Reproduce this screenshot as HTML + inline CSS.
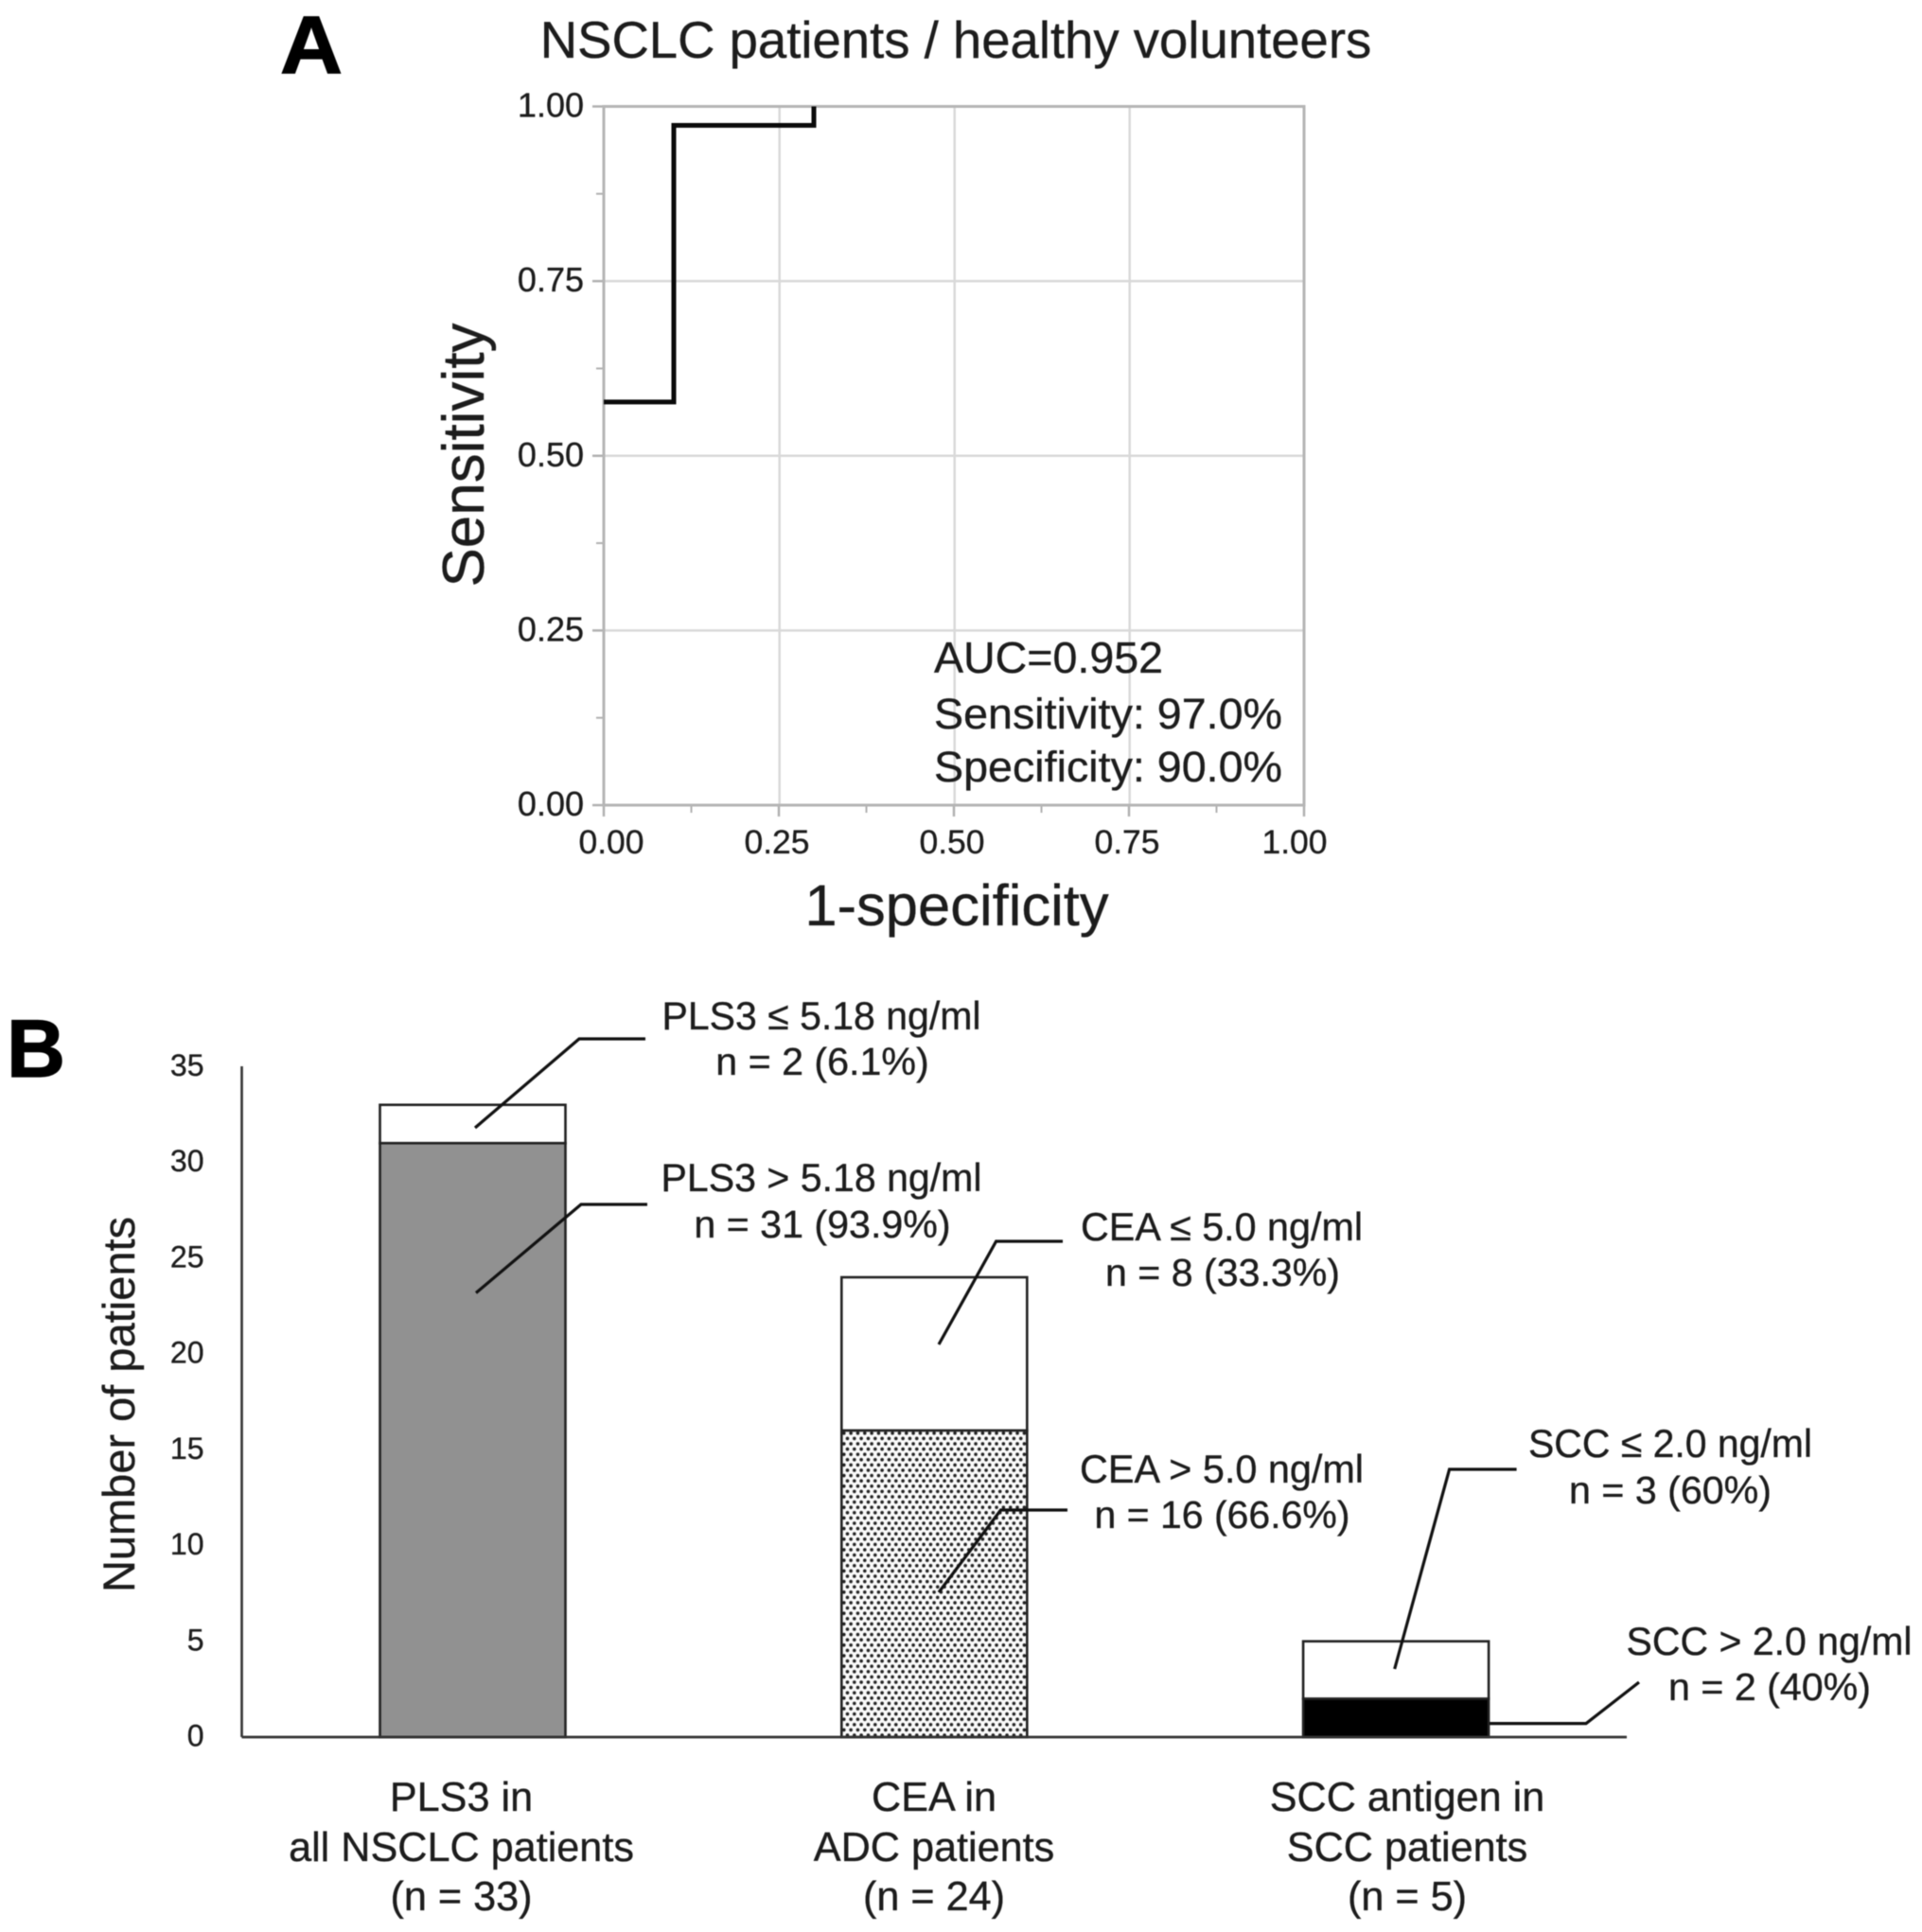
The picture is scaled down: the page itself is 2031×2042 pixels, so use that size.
<!DOCTYPE html>
<html lang="en">
<head>
<meta charset="utf-8">
<title>NSCLC ROC curve and marker positivity</title>
<style>
html,body{margin:0;padding:0;background:#fff;width:2031px;height:2042px;overflow:hidden}
svg{display:block;filter:blur(0.5px)}
text{font-family:"Liberation Sans",Arial,sans-serif;fill:#1c1c1c;stroke:#1c1c1c;stroke-width:0.35}
.leader{fill:none;stroke:#111;stroke-width:3.2}
</style>
</head>
<body>
<svg id="figure" xmlns="http://www.w3.org/2000/svg" width="2031" height="2042" viewBox="0 0 2031 2042">
  <defs>
    <pattern id="dots" width="7.33" height="11.2" patternUnits="userSpaceOnUse" x="890" y="1512">
      <rect width="7.33" height="11.2" fill="#fafafa"/>
      <circle cx="1.8" cy="2.8" r="1.8" fill="#222"/>
      <circle cx="5.47" cy="8.4" r="1.8" fill="#222"/>
    </pattern>
  </defs>
  <rect width="2031" height="2042" fill="#fff"/>

  <g id="panel-a">
    <text x="296" y="77" font-size="86" font-weight="700" textLength="66" lengthAdjust="spacingAndGlyphs" style="fill:#000;stroke:#000;stroke-width:1.2">A</text>
    <text x="1010" y="61" font-size="54.5" text-anchor="middle">NSCLC patients / healthy volunteers</text>
    <g id="roc-grid"></g>
    <g id="roc-axes"></g>
    <g id="roc-curve"></g>
    <text transform="translate(511,481) rotate(-90)" font-size="62" text-anchor="middle">Sensitivity</text>
    <text x="1011" y="978" font-size="61.5" text-anchor="middle">1-specificity</text>
    <text x="987" y="711" font-size="46.5" textLength="242" lengthAdjust="spacingAndGlyphs">AUC=0.952</text>
    <text x="987" y="770" font-size="45.5" textLength="368" lengthAdjust="spacingAndGlyphs">Sensitivity: 97.0%</text>
    <text x="987" y="826" font-size="45.5" textLength="368" lengthAdjust="spacingAndGlyphs">Specificity: 90.0%</text>
  </g>

  <g id="panel-b">
    <text x="7" y="1138" font-size="86" font-weight="700" textLength="62" lengthAdjust="spacingAndGlyphs" style="fill:#000;stroke:#000;stroke-width:1.2">B</text>
    <text transform="translate(142,1484.5) rotate(-90)" font-size="47" text-anchor="middle">Number of patients</text>
    <g id="bar-marks"></g>
    <g id="bar-axes"></g>
    <g id="bar-categories"></g>

    <polyline class="leader" points="502,1192 612,1098 682,1098"/>
    <polyline class="leader" points="503,1366.5 614,1273 684,1273"/>
    <polyline class="leader" points="992,1421 1052.6,1312 1123,1312"/>
    <polyline class="leader" points="992,1683 1057.5,1596 1128,1596"/>
    <polyline class="leader" points="1473.7,1764 1531.6,1553 1602.6,1553"/>
    <polyline class="leader" points="1574,1821.6 1676,1821.6 1732,1778"/>

    <text x="868" y="1088" font-size="42" text-anchor="middle" textLength="337" lengthAdjust="spacingAndGlyphs">PLS3 ≤ 5.18 ng/ml</text>
    <text x="869" y="1136" font-size="41.2" text-anchor="middle">n = 2 (6.1%)</text>
    <text x="868" y="1259" font-size="42" text-anchor="middle" textLength="339" lengthAdjust="spacingAndGlyphs">PLS3 &gt; 5.18 ng/ml</text>
    <text x="869" y="1308" font-size="41.2" text-anchor="middle">n = 31 (93.9%)</text>

    <text x="1291" y="1311" font-size="42" text-anchor="middle" textLength="298" lengthAdjust="spacingAndGlyphs">CEA ≤ 5.0 ng/ml</text>
    <text x="1292" y="1359" font-size="41" text-anchor="middle" textLength="248" lengthAdjust="spacingAndGlyphs">n = 8 (33.3%)</text>
    <text x="1291" y="1567" font-size="42" text-anchor="middle" textLength="300" lengthAdjust="spacingAndGlyphs">CEA &gt; 5.0 ng/ml</text>
    <text x="1291.5" y="1615" font-size="41" text-anchor="middle" textLength="270" lengthAdjust="spacingAndGlyphs">n = 16 (66.6%)</text>

    <text x="1765" y="1540" font-size="42" text-anchor="middle" textLength="300" lengthAdjust="spacingAndGlyphs">SCC ≤ 2.0 ng/ml</text>
    <text x="1765" y="1589" font-size="41" text-anchor="middle" textLength="214" lengthAdjust="spacingAndGlyphs">n = 3 (60%)</text>
    <text x="1869.5" y="1749" font-size="42" text-anchor="middle" textLength="302" lengthAdjust="spacingAndGlyphs">SCC &gt; 2.0 ng/ml</text>
    <text x="1870" y="1797" font-size="41" text-anchor="middle" textLength="214" lengthAdjust="spacingAndGlyphs">n = 2 (40%)</text>
  </g>
</svg>

<script>
// ROC chart data
const rocFalsePositive = [0, 0.1, 0.3];
const rocTruePositive = [0.577, 0.973, 1.0];
const rocMajorTicks = [0, 0.25, 0.5, 0.75, 1];
const rocMinorTicks = [0.125, 0.375, 0.625, 0.875];
const rocTickLabels = ['0.00', '0.25', '0.50', '0.75', '1.00'];

// Stacked bar chart data
const barCategories = [
  ['PLS3 in', 'all NSCLC patients', '(n = 33)'],
  ['CEA in', 'ADC patients', '(n = 24)'],
  ['SCC antigen in', 'SCC patients', '(n = 5)']
];
const barKeys = ['pls3', 'cea', 'scc'];
const aboveCutoffValues = [31, 16, 2];
const belowCutoffValues = [2, 8, 3];
const barTicks = [0, 5, 10, 15, 20, 25, 30, 35];
const barTickLabels = ['0', '5', '10', '15', '20', '25', '30', '35'];

const SVGNS = 'http://www.w3.org/2000/svg';
function make(tag, parent, attrs, content) {
  const el = document.createElementNS(SVGNS, tag);
  Object.keys(attrs).forEach(function (k) { el.setAttribute(k, attrs[k]); });
  if (content !== undefined) el.textContent = content;
  parent.appendChild(el);
  return el;
}

// ROC scales
const rocLeft = 638, rocRight = 1378, rocTop = 112.5, rocBottom = 851;
function rocX(v) { return rocLeft + v * (rocRight - rocLeft); }
function rocY(v) { return rocBottom - v * (rocBottom - rocTop); }

const rocGrid = document.getElementById('roc-grid');
const rocAxes = document.getElementById('roc-axes');
const rocCurve = document.getElementById('roc-curve');

rocMajorTicks.forEach(function (t, i) {
  if (t > 0 && t < 1) {
    const gx = make('line', rocGrid, { x1: rocX(t) + 0.7, x2: rocX(t) + 0.7, y1: rocTop, y2: rocBottom, stroke: '#d9d9d9', 'stroke-width': 2.5 });
    
    
    const gy = make('line', rocGrid, { x1: rocLeft, x2: rocRight, y1: rocY(t), y2: rocY(t), stroke: '#d9d9d9', 'stroke-width': 2.5 });
    
    
  }
  const tx = make('line', rocAxes, { x1: rocX(t), x2: rocX(t), y1: rocBottom, y2: rocBottom + 12, stroke: '#b0b0b0', 'stroke-width': 2.5 });
  
  
  const ty = make('line', rocAxes, { x1: rocLeft - 12, x2: rocLeft, y1: rocY(t), y2: rocY(t), stroke: '#b0b0b0', 'stroke-width': 2.5 });
  
  
  const lx = make('text', rocAxes, { x: Math.min(Math.max(rocX(t) - 2, 646), 1368), y: 902, 'font-size': 35.5, 'text-anchor': 'middle' }, rocTickLabels[i]);
  
  
  const ly = make('text', rocAxes, { x: 617, y: rocY(t) + 11, 'font-size': 36, 'text-anchor': 'end' }, rocTickLabels[i]);
  
  
});
rocMinorTicks.forEach(function (t) {
  const mx = make('line', rocAxes, { x1: rocX(t), x2: rocX(t), y1: rocBottom, y2: rocBottom + 8, stroke: '#b0b0b0', 'stroke-width': 2 });
  
  
  const my = make('line', rocAxes, { x1: rocLeft - 8, x2: rocLeft, y1: rocY(t), y2: rocY(t), stroke: '#b0b0b0', 'stroke-width': 2 });
  
  
});
const rocFrame = make('rect', rocAxes, { x: rocLeft, y: rocTop, width: rocRight - rocLeft, height: rocBottom - rocTop, fill: 'none', stroke: '#b5b5b5', 'stroke-width': 3 });



let rocPath = 'M' + rocX(rocFalsePositive[0]) + ' ' + rocY(rocTruePositive[0]);
for (let i = 1; i < rocFalsePositive.length; i++) {
  rocPath += ' H' + rocX(rocFalsePositive[i]) + ' V' + rocY(rocTruePositive[i]);
}
const rocLine = make('path', rocCurve, { d: rocPath, fill: 'none', stroke: '#0a0a0a', 'stroke-width': 5, 'stroke-linejoin': 'miter' });



// Bar scales
const barBaseY = 1836, barUnit = 20.25, barWidth = 196;
const barAxisLeft = 255.5, barAxisRight = 1719;
const barCenterStart = 499.5, barStep = 487.8;
const categoryLabelCenters = [487.5, 987, 1487];
function barY(v) { return barBaseY - v * barUnit; }
function barCenter(i) { return barCenterStart + i * barStep; }

const barMarks = document.getElementById('bar-marks');
const barAxes = document.getElementById('bar-axes');
const barCats = document.getElementById('bar-categories');
const lowerFills = ['#919191', 'url(#dots)', '#000'];

barCategories.forEach(function (lines, i) {
  const left = barCenter(i) - barWidth / 2;
  const lower = aboveCutoffValues[i];
  const upper = belowCutoffValues[i];
  const upperRect = make('rect', barMarks, { x: left, y: barY(lower + upper), width: barWidth, height: upper * barUnit, fill: '#fff', stroke: '#222', 'stroke-width': 2.6 });
  
  
  const lowerRect = make('rect', barMarks, { x: left, y: barY(lower), width: barWidth, height: lower * barUnit, fill: lowerFills[i], stroke: '#222', 'stroke-width': 2.6 });
  
  

  const baselines = [1914, 1967, 2019];
  lines.forEach(function (line, j) {
    const t = make('text', barCats, { x: categoryLabelCenters[i], y: baselines[j], 'font-size': 43.2, 'text-anchor': 'middle' }, line);
    
    
  });
});

const barYAxis = make('line', barAxes, { x1: barAxisLeft, x2: barAxisLeft, y1: 1127, y2: barBaseY, stroke: '#333', 'stroke-width': 2.6 });


const barXAxis = make('line', barAxes, { x1: barAxisLeft, x2: barAxisRight, y1: barBaseY, y2: barBaseY, stroke: '#333', 'stroke-width': 2.8 });


barTicks.forEach(function (t, i) {
  const lab = make('text', barAxes, { x: 215.5, y: barY(t) + 9.5, 'font-size': 32, 'text-anchor': 'end' }, barTickLabels[i]);
  
  
});
</script>
</body>
</html>
